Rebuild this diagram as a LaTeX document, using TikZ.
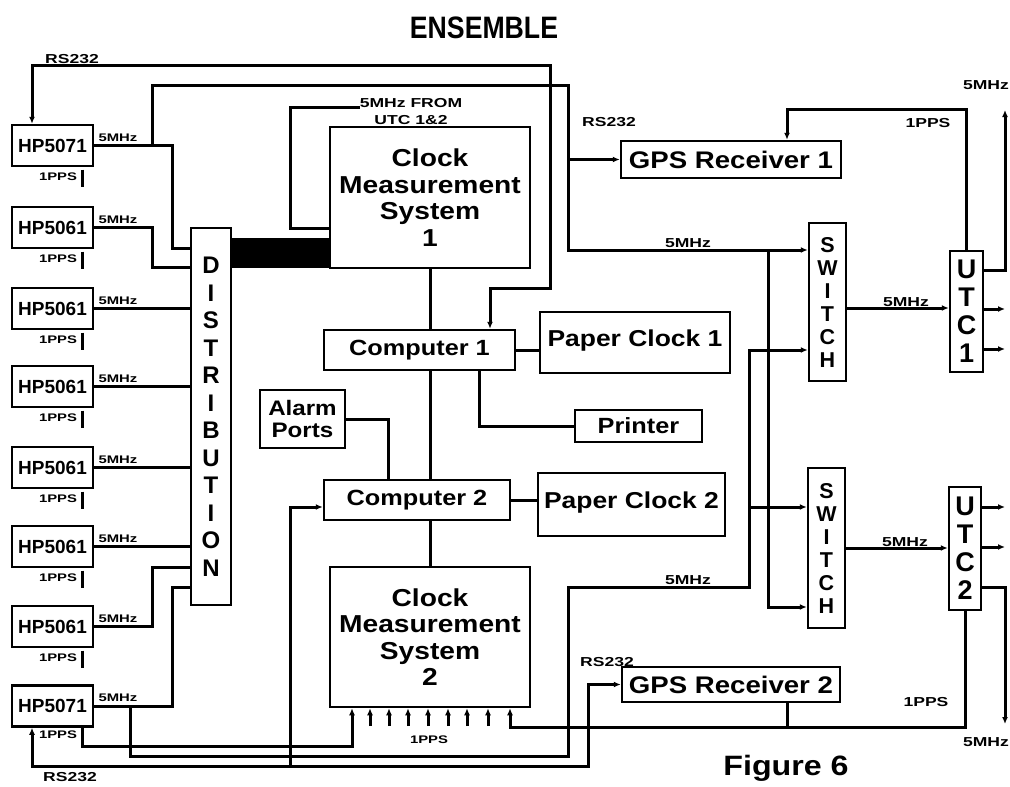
\documentclass[tikz,border=0pt]{standalone}
\usepackage{fontspec}
\setmainfont{Liberation Sans}
\newfontfamily\wf[FakeStretch=1.15]{Liberation Sans}
\usetikzlibrary{arrows.meta}
\newcommand\sx[1]{\scalebox{1.35}[1]{#1}}
\begin{document}
\begin{tikzpicture}[x=1pt,y=-1pt,
  bx/.style={draw,line width=2.5pt,inner sep=0pt,align=center},
  hp/.style={bx,minimum width=81pt,minimum height=41pt,font=\fontsize{19}{19}\selectfont\bfseries},
  ln/.style={line width=3pt},
  arr/.style={-{Latex[length=7pt,width=6pt]}},
  darr/.style={{Latex[length=7pt,width=6pt]}-{Latex[length=7pt,width=6pt]}},
  sl/.style={inner sep=0pt,font=\fontsize{11}{11}\selectfont\bfseries},
  ml/.style={inner sep=0pt,font=\fontsize{13}{13}\selectfont\bfseries},
]
\useasboundingbox (0,0) rectangle (1010,787);
\fill[white] (0,0) rectangle (1010,787);

\node[font=\fontsize{31}{31}\selectfont\bfseries] (title) at (484,28) {\scalebox{0.86}[1]{ENSEMBLE}};
\node[font=\wf\fontsize{28}{28}\selectfont\bfseries] (fig) at (786,768) {Figure 6};

% clocks on the left
\foreach \i/\y/\t in {1/145.5/HP5071,2/227.5/HP5061,3/308.5/HP5061,4/386.5/HP5061,5/467.5/HP5061,6/546.5/HP5061,7/626.5/HP5061,8/706/HP5071}{
  \node[hp] (hp\i) at (52.5,\y) {\t};
  \node[sl] (f\i) at (118,\y-8) {\sx{5MHz}};
}
\foreach \i/\y in {1/145.5,2/227.5,3/308.5,4/386.5,5/467.5,6/546.5,7/626.5}{
  \node[sl] (p\i) at (58,\y+31) {\sx{1PPS}};
  \draw[ln] (82,\y+24) -- (82,\y+41);
}
\node[sl] (p8) at (58,735) {\sx{1PPS}};

% main blocks
\node[bx,minimum width=40pt,minimum height=377pt,font=\fontsize{24}{27.5}\selectfont\bfseries] (dist) at (211,416.5) {D\\I\\S\\T\\R\\I\\B\\U\\T\\I\\O\\N};
\node[bx,minimum width=200pt,minimum height=141pt,font=\wf\fontsize{24.5}{26.5}\selectfont\bfseries] (cms1) at (430,197.5) {Clock\\Measurement\\System\\1};
\node[bx,minimum width=200pt,minimum height=140pt,font=\wf\fontsize{24.5}{26.5}\selectfont\bfseries] (cms2) at (430,637) {Clock\\Measurement\\System\\2};
\node[bx,minimum width=191pt,minimum height=40pt,font=\wf\fontsize{22}{22}\selectfont\bfseries] (cp1) at (419.5,350) {Computer 1};
\node[bx,minimum width=186pt,minimum height=40pt,font=\wf\fontsize{22}{22}\selectfont\bfseries] (cp2) at (417,500) {Computer 2};
\node[bx,minimum width=190pt,minimum height=61pt,font=\wf\fontsize{23}{23}\selectfont\bfseries] (pc1) at (635,342.5) {\raisebox{8pt}{Paper Clock 1}};
\node[bx,minimum width=187pt,minimum height=63pt,font=\wf\fontsize{23}{23}\selectfont\bfseries] (pc2) at (631.5,504.5) {\raisebox{8pt}{Paper Clock 2}};
\node[bx,minimum width=127pt,minimum height=32pt,font=\wf\fontsize{22}{22}\selectfont\bfseries] (pr) at (638.5,426) {Printer};
\node[bx,minimum width=85pt,minimum height=58pt,font=\wf\fontsize{21}{22}\selectfont\bfseries] (al) at (302.5,419) {Alarm\\Ports};
\node[bx,minimum width=220pt,minimum height=37pt,font=\wf\fontsize{24}{24}\selectfont\bfseries] (gps1) at (731,159.5) {GPS Receiver 1};
\node[bx,minimum width=218pt,minimum height=35pt,font=\wf\fontsize{24}{24}\selectfont\bfseries] (gps2) at (731,684.5) {GPS Receiver 2};
\node[bx,minimum width=37pt,minimum height=158pt,font=\fontsize{21.5}{23}\selectfont\bfseries] (sw1) at (827.5,302) {S\\W\\I\\T\\C\\H};
\node[bx,minimum width=37pt,minimum height=160pt,font=\fontsize{21.5}{23}\selectfont\bfseries] (sw2) at (826.5,548) {S\\W\\I\\T\\C\\H};
\node[bx,minimum width=33pt,minimum height=121pt,font=\fontsize{27}{28}\selectfont\bfseries] (utc1) at (966.5,311.5) {U\\T\\C\\1};
\node[bx,minimum width=32pt,minimum height=123pt,font=\fontsize{27}{28}\selectfont\bfseries] (utc2) at (965,548.5) {U\\T\\C\\2};

% thick bus between distribution and CMS 1
\fill (231,238) rectangle (331,268);

% clocks into distribution
\draw[ln] (hp1.east) -- (hp1.east -| 172,0) -- (172,248) -- (dist.west |- 0,248);
\draw[ln] (hp2.east) -- (hp2.east -| 152,0) -- (152,267) -- (dist.west |- 0,267);
\foreach \i in {3,4,5,6} \draw[ln] (hp\i.east) -- (hp\i.east -| dist.west);
\draw[ln] (hp7.east) -- (hp7.east -| 152,0) -- (152,567) -- (dist.west |- 0,567);
\draw[ln] (hp8.east) -- (hp8.east -| 172,0) -- (172,587) -- (dist.west |- 0,587);

% 5 MHz of the first HP5071 to the switches and GPS receiver 1
\draw[ln,arr] (hp1.east -| 152,0) -- (152,85) -- (568,85) -- (568,250) -- (sw1.west |- 0,250);
\draw[ln,arr] (gps1.west -| 568,0) -- (gps1.west);
\draw[ln,arr] (768,250) -- (768,607) -- (sw2.west |- 0,607);
\node[ml] (l5a) at (688,243) {\sx{5MHz}};
\node[ml] (lrsa) at (609,122) {\sx{RS232}};

% 5 MHz of the last HP5071 to the switches
\draw[ln,arr] (hp8.east -| 130,0) -- (130,756) -- (568,756) -- (568,587) -- (749,587) -- (749,350) -- (sw1.west |- 0,350);
\draw[ln,arr] (749,507) -- (sw2.west |- 0,507);
\node[ml] (l5b) at (688,580) {\sx{5MHz}};

% RS232 top
\draw[ln,darr] (hp1.north -| 32,0) -- (32,65) -- (550,65) -- (550,288) -- (490,288) -- (cp1.north -| 490,0);
\node[ml] (lrst) at (72,59) {\sx{RS232}};

% 5MHz from UTC 1&2
\node[ml,align=center,font=\fontsize{13}{17}\selectfont\bfseries] (from) at (411,112) {\sx{5MHz FROM}\\\sx{UTC 1\&2}};
\draw[ln] (cms1.west |- 0,228) -- (290,228) -- (290,107) -- (from.west |- 0,107);

% computers
\draw[ln] (cms1.south) -- (cms1.south |- cp1.north);
\draw[ln] (cp1.south -| cms1.south) -- (cp2.north -| cms1.south);
\draw[ln] (cp2.south -| cms2.north) -- (cms2.north);
\draw[ln] (cp1.east) -- (cp1.east -| pc1.west);
\draw[ln] (cp1.south -| 479,0) -- (479,426) -- (pr.west);
\draw[ln] (al.east) -- (al.east -| 388,0) -- (cp2.north -| 388,0);
\draw[ln] (cp2.east) -- (cp2.east -| pc2.west);

% RS232 bottom
\draw[ln,darr] (hp8.south -| 32,0) -- (32,766) -- (588,766) -- (588,684.5) -- (gps2.west);
\draw[ln,arr] (290,766) -- (290,507) -- (cp2.west |- 0,507);
\node[ml] (lrsb) at (70,777) {\sx{RS232}};
\node[ml] (lrsc) at (607,662) {\sx{RS232}};

% 1PPS into CMS 2
\draw[ln,arr] (hp8.south -| 82,0) -- (82,746) -- (352,746) -- (cms2.south -| 352,0);
\foreach \x in {370,389,408,428,448,467,488} \draw[ln,arr] (\x,726) -- (cms2.south -| \x,0);
\node[sl] (lpc) at (429,740) {\sx{1PPS}};
\draw[ln,arr] (utc2.south) -- (utc2.south |- 0,727) -- (510,727) -- (cms2.south -| 510,0);
\draw[ln] (gps2.south -| 787,0) -- (787,727);
\node[ml] (lpb) at (926,702) {\sx{1PPS}};

% 1PPS to GPS receiver 1
\draw[ln,arr] (utc1.north) -- (utc1.north |- 0,109) -- (787,109) -- (gps1.north -| 787,0);
\node[ml] (lpa) at (928,123) {\sx{1PPS}};

% switches to UTC
\draw[ln,arr] (sw1.east |- 0,308) -- (utc1.west |- 0,308);
\draw[ln,arr] (sw2.east |- 0,548) -- (utc2.west |- 0,548);
\node[ml] (l5c) at (906,302) {\sx{5MHz}};
\node[ml] (l5d) at (905,542) {\sx{5MHz}};

% UTC outputs
\coordinate (u1a) at (1005,110);
\coordinate (u1b) at (1005,309);
\coordinate (u1c) at (1005,349);
\coordinate (u2a) at (1005,507);
\coordinate (u2b) at (1005,547);
\coordinate (u2c) at (1005,724);
\draw[ln,arr] (utc1.east |- 0,270) -- (u1a |- 0,270) -- (u1a);
\draw[ln,arr] (utc1.east |- u1b) -- (u1b);
\draw[ln,arr] (utc1.east |- u1c) -- (u1c);
\draw[ln,arr] (utc2.east |- u2a) -- (u2a);
\draw[ln,arr] (utc2.east |- u2b) -- (u2b);
\draw[ln,arr] (utc2.east |- 0,587) -- (u2c |- 0,587) -- (u2c);
\node[ml] (l5e) at (986,85) {\sx{5MHz}};
\node[ml] (l5f) at (986,742) {\sx{5MHz}};
\end{tikzpicture}
\end{document}
